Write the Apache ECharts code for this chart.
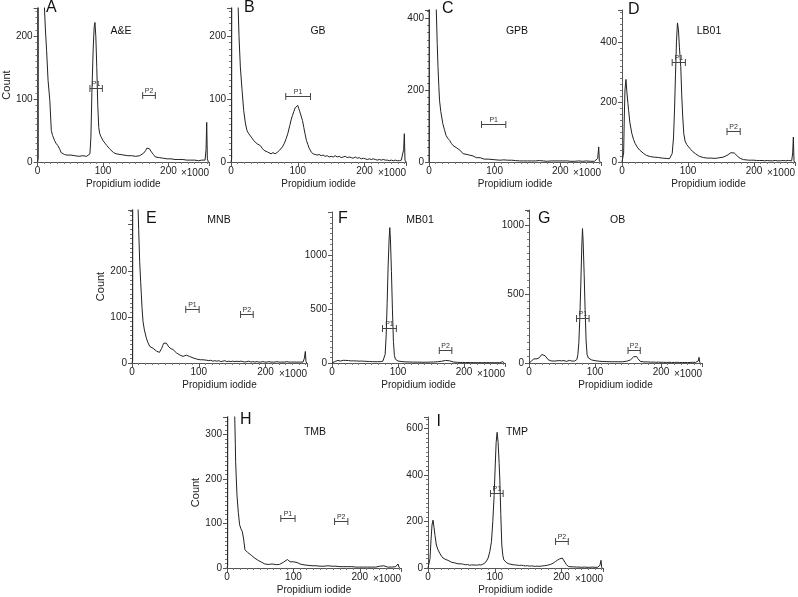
<!DOCTYPE html>
<html><head><meta charset="utf-8">
<script src="https://cdn.jsdelivr.net/npm/echarts@6/dist/echarts.min.js"></script>
<style>html,body{margin:0;padding:0;background:#fff}#c{width:798px;height:597px}</style>
</head><body><div id="c"></div>
<script>
// ---- data (x in ×1000 units of Propidium iodide, y = Count) ----
const dataA = [[0,0],[1,5],[2,3000],[9,3000],[10.3,250],[12,210],[13.8,177],[16,130],[18.7,98],[21,50],[23,42],[26,34],[28,30],[31,26],[34,20],[36,15],[39,12],[41,12],[45,11],[48,10],[51,11],[54,9],[57,10],[60,8],[63,9],[66,8],[69,10],[72,8],[75,9],[78,11],[80,13],[81.5,40],[83,110],[85,180],[86.5,215],[87.7,222],[89,200],[90.5,150],[92,90],[93.5,55],[95,45],[97,40],[100,34],[103,30],[106,26],[110,21],[113,18],[116,15],[120,13],[123,11],[126,12],[129,9],[132,11],[135,9],[138,10],[141,8],[144,10],[147,8],[150,9],[153,11],[156,10],[159,12],[162,14],[165,18],[167,22],[169,24],[171,21],[174,16],[177,12],[180,8],[183,9],[186,7],[189,8],[192,6],[195,7],[198,5],[201,6],[204,5],[207,6],[210,4],[213,5],[216,4],[219,5],[222,4],[225,4],[228,3],[231,4],[234,3],[237,4],[240,3],[243,3],[246,2],[249,5],[251,3],[254,2],[256,3],[257.5,20],[258.5,63],[259.5,5],[261,0]];
const dataB = [[0,0],[1,5],[2,3000],[9,3000],[10.6,250],[12,200],[14,151],[16.5,115],[19,82],[21.5,62],[24,50],[26.5,45],[29,42],[31.5,38],[34,34],[36.5,31],[39,29],[41.5,28],[44,26],[46.5,22],[49.5,18.5],[52,17],[54.5,16],[57,14],[60,13],[63,15],[66,13],[68,14],[70,16],[73,19],[75,21],[77,24],[80,30],[82.5,37],[85,45],[88,58],[90,67],[92,74],[94,80],[96,86],[98,89],[100,90],[101.5,85],[103,80],[105,77],[107,66],[109,55],[111,44],[113,34],[115,28],[117,22],[120,16],[123,13],[126,12],[129,11],[132,12],[135,10],[138,11],[141,9],[144,10],[147,8],[150,9],[153,8],[156,10],[159,8],[162,9],[165,7],[168,8],[171,9],[174,7],[177,8],[180,7],[183,6],[186,8],[189,6],[192,7],[195,5],[198,6],[201,5],[204,4],[207,5],[210,4],[213,5],[216,4],[219,3],[222,4],[225,3],[228,4],[231,3],[234,3],[237,2],[240,3],[243,2],[246,3],[249,2],[252,2],[255,3],[257,3],[258.5,20],[259.5,45],[260.5,3],[262,0]];
const dataC = [[0,0],[1,5],[2,5000],[9,5000],[11,430],[12.5,330],[13.7,265],[15,210],[16,172],[18,140],[21,107],[23.5,90],[26,74],[28.5,66],[31.5,60],[34,52],[36.5,46],[39,42],[41.5,40],[44,37],[47,33],[49,30],[52,23],[55,24],[58,21],[60,19],[62,19],[65,16],[67,17],[70,13],[72,12],[75,11],[78,12],[81,9],[84,8],[87,7],[90,8],[93,6],[96,7],[99,5],[102,6],[105,5],[108,5],[111,4],[114,6],[117,4],[120,5],[123,4],[126,5],[129,3],[132,4],[135,5],[138,3],[141,4],[144,3],[147,5],[150,3],[153,4],[156,3],[159,4],[162,3],[165,3],[168,4],[171,2],[174,3],[177,4],[180,2],[183,3],[186,3],[189,2],[192,3],[195,2],[198,3],[201,2],[204,3],[207,2],[210,3],[213,2],[216,2],[219,3],[222,2],[225,2],[228,3],[231,2],[234,2],[237,2],[240,3],[243,2],[246,2],[249,2],[252,2],[255,2],[257,10],[258.5,42],[259.5,3],[261,0]];
const dataD = [[0,0],[1.5,2],[2.5,30],[3.5,150],[4.5,240],[6,275],[7.5,230],[9,195],[10,172],[12,130],[15,94],[17.5,75],[20,61],[23,50],[27,39],[30,33],[33,28],[37,22],[40,20],[43,18],[46,19],[49,16],[52,17],[55,15],[58,16],[61,13],[64,14],[67,12],[70,12],[72,11],[74,14],[76,28],[78,80],[79.5,170],[81,290],[82.5,400],[84,463],[85.5,440],[87,380],[89,317],[90.5,220],[92,150],[93.6,94],[95.5,70],[98,58],[101,50],[104,42],[107,35],[111,28],[114,23],[117,19],[120,17],[123,15],[126,14],[129,13],[132,12],[135,13],[138,11],[141,12],[144,13],[147,14],[150,17],[153,16],[156,19],[159,22],[162,26],[165,31],[167.5,33],[170,30],[173,24],[176,17],[180,11],[184,8],[188,7],[192,6],[196,6],[200,6],[204,5],[208,5],[212,5],[216,4],[220,5],[224,4],[228,4],[232,5],[236,4],[240,4],[244,5],[248,4],[252,5],[257,4],[258.5,30],[259.5,83],[260.5,4],[261.5,0]];
const dataE = [[0,0],[1,5],[2,4000],[8,4000],[9,340],[10,290],[11.5,220],[13,175],[14,148],[15,120],[16.5,90],[18.5,72],[21.5,54],[24,44],[26.5,36],[29,34],[31.5,32],[34,29],[36.5,26],[39,22],[41,23],[43,27],[44.5,32],[46,38],[47.5,43],[49.5,45],[51.5,43],[53,40],[55,35],[56.5,32],[58.5,31],[61.5,29],[64,26],[66.5,22],[69,19.5],[72,17],[74,16],[76.5,14.4],[79,15],[81.5,17],[84,16.6],[86.5,14],[89,12],[91.5,11],[94,10],[96.5,8.7],[99,9],[102,7],[104,8],[106.5,7],[109,5],[112,6],[115,5],[118,6],[121,4],[124,5],[127,4],[130,5],[133,3],[136,4],[139,5],[142,3],[145,4],[148,3],[151,4],[154,3],[157,4],[160,3],[163,4],[166,3],[169,2],[172,3],[175,4],[178,2],[181,3],[184,2],[187,3],[190,2],[193,2],[196,3],[199,2],[202,2],[205,3],[208,2],[211,2],[214,2],[217,3],[220,2],[223,2],[226,2],[229,2],[232,3],[235,2],[238,2],[241,2],[244,2],[247,2],[250,2],[253,2],[256,2],[258,10],[259.5,25],[260.5,3],[261.5,0]];
const dataF = [[0,0],[1.5,5],[3,18],[5,15],[7,20],[9,24],[11,22],[13,18],[15,25],[17,25],[19,22],[21,24],[23,26],[25,23],[27,20],[29,19],[31,22],[33,20],[35,17],[37,19],[39,21],[41,17],[43,15],[45,18],[47,14],[49,16],[51,13],[53,15],[55,12],[57,14],[59,11],[61,13],[63,10],[65,12],[67,11],[69,12],[71,10],[73,13],[75,12],[77,16],[79,30],[80.5,80],[82,250],[83.5,550],[85,900],[86.5,1150],[87.5,1255],[88.5,1150],[90,850],[91.5,500],[93,200],[94.5,70],[96,35],[98,22],[100,18],[103,15],[106,13],[109,12],[112,10],[115,11],[118,9],[121,10],[124,8],[127,9],[130,8],[133,9],[136,7],[139,8],[142,7],[145,9],[148,8],[151,10],[154,9],[157,11],[160,12],[163,13],[166,16],[169,20],[172,24],[175,25],[178,20],[181,13],[184,9],[187,7],[190,6],[194,5],[198,5],[202,4],[206,5],[210,4],[214,4],[218,3],[222,4],[226,3],[230,3],[234,4],[238,3],[242,3],[246,3],[250,3],[254,3],[257,3],[258.5,12],[259.5,3],[261,0]];
const dataG = [[0,0],[2,5],[3.5,12],[5,18],[7,30],[8.6,36],[10,33],[12,30],[13.7,29],[15.5,38],[17.5,50],[19.5,62],[21,67],[22.5,65],[24.5,52],[26.5,38],[29,24],[31,18],[33.5,15],[36.5,12],[39,14],[41,13],[44,17],[46.7,19],[49,16],[51,14],[53,17],[55,15],[57,12],[59,15],[61,19],[63,16],[65,14],[67,15],[69,14],[71,17],[72.5,25],[74,60],[75.5,150],[77,330],[78.5,580],[80,850],[81,976],[82,880],[83.5,650],[85,380],[86.5,160],[88,60],[90,36],[92.5,28],[95,22],[97.5,19],[100,17],[103,14],[106,13],[109,12],[112,11],[115,11],[118,10],[121,10],[124,9],[127,10],[130,9],[133,8],[136,9],[139,10],[142,9],[145,11],[148,13],[151,16],[153.5,22],[156,32],[158.5,45],[161,53],[163,47],[165,32],[167,18],[168.5,12],[171,9],[174,8],[177,7],[180,8],[184,6],[188,7],[192,5],[196,6],[200,5],[204,5],[208,4],[212,5],[216,4],[220,4],[224,5],[228,4],[232,3],[236,4],[240,3],[244,4],[248,5],[252,4],[255,4],[256.5,15],[257.5,41],[258.5,4],[260,0]];
const dataH = [[0,0],[1,5],[2,4000],[10,4000],[11.6,345],[12.5,280],[13,239],[14,200],[15,164],[17,125],[19,97],[21,88],[23,82],[25,65],[27,41],[29,37],[31,35],[34,31],[37,28],[40,25],[42,22],[45,19],[47,17],[49.5,15],[52,13],[55,11],[57,9],[59.6,7.5],[62,8],[65,7],[68,9],[71,8],[74.7,7.5],[77,9],[79,8],[82,11],[85,13],[88,17],[91,19],[93,17],[95,14],[97.5,13],[100,14],[103,11],[106,12],[108,9],[110,9],[113,10],[116,7],[119,8],[122,6],[125,4],[128,5],[131,4],[134,5],[137,3],[140,4],[143,3],[146,4],[149,3],[152,5],[155,3],[158,4],[161,3],[164,4],[167,5],[170,3],[173,4],[176,3],[179,4],[182,3],[185,2],[188,3],[191,4],[194,2],[197,3],[200,2],[203,3],[206,2],[209,3],[212,2],[215,3],[218,2],[221,3],[224,2],[227,3],[230,4],[233,6],[236,5],[239,3],[242,2],[245,3],[248,2],[251,2],[254,3],[256,4],[257.5,9],[259,2],[260,0]];
const dataI = [[0,0],[1.5,5],[3,40],[4.5,120],[6,185],[7.5,206],[9,175],[10.5,140],[12.5,99],[15,78],[17.5,64],[20,52],[22.5,43],[25,38],[27,36],[28.5,40],[30,33],[32.5,29],[35,25],[37.5,21],[40,22],[42.5,20],[45,18],[47.5,17],[50,18],[53,16],[56,14],[59,15],[62,12],[65,13],[67.5,11],[70,13],[73,12],[76,14],[79,13],[82,16],[85,21],[87.5,30],[90,43],[92.5,70],[95,113],[97,200],[99,312],[100.5,430],[102,540],[103.5,584],[105,540],[106.5,450],[107.5,383],[109,230],[110.5,99],[112,55],[113.5,35],[115,28],[118,22],[121,18],[124,16],[127.5,14],[131,13],[134,12],[137,11],[140,12],[143,10],[146,9],[149,10],[152,8],[155,9],[158,8],[161,7],[164,8],[167.5,7],[171,9],[175,10],[179,12],[183,15],[187.5,21],[191,28],[194,34],[197,39],[199,42],[201,43],[203,36],[205,25],[207,15],[210,7],[214,5],[218,5],[222,4],[226,4],[230,3],[234,4],[238,3],[242,3],[246,4],[250,3],[254,3],[256,4],[257.5,12],[259,33],[260,3],[261,0]];

// gates: [from, to, height]
const gatesA = [[80,99,117],[160.6,180,107]];
const gatesB = [[82,119,105]];
const gatesC = [[80,117,105]];
const gatesD = [[76,96,333],[159,179,103]];
const gatesE = [[80.5,100.5,117],[162.5,181.5,107]];
const gatesF = [[76.5,97.5,329],[162.5,181.5,117]];
const gatesG = [[72,91,325],[150,168.5,92]];
const gatesH = [[81,102.5,113],[162,182,106]];
const gatesI = [[93.5,112.5,322],[191,210,116]];
const gateLabels = ['P1','P2'];

// tick labels
const xTicks = [0,100,200];
const yTicksA = [0,100,200];
const yTicksB = [0,100,200];
const yTicksC = [0,200,400];
const yTicksD = [0,200,400];
const yTicksE = [0,100,200];
const yTicksF = [0,500,1000];
const yTicksG = [0,500,1000];
const yTicksH = [0,100,200,300];
const yTicksI = [0,200,400,600];
const xMax = 262;

// layout
const panels = [
  {letter:'A', name:'A&E',  data:dataA, gates:gatesA, yTicks:yTicksA, yMax:245,  box:[32,8,177,154],   count:true,  lp:[46,0],  np:[121,31.5]},
  {letter:'B', name:'GB',   data:dataB, gates:gatesB, yTicks:yTicksB, yMax:245,  box:[231,8,175,154],  count:false, lp:[244,0], np:[318,31.5]},
  {letter:'C', name:'GPB',  data:dataC, gates:gatesC, yTicks:yTicksC, yMax:423,  box:[429,10,172,152], count:false, lp:[442,0.5], np:[517,31]},
  {letter:'D', name:'LB01', data:dataD, gates:gatesD, yTicks:yTicksD, yMax:506,  box:[622,10,175,152], count:false, lp:[628,1.5], np:[709,31]},
  {letter:'E', name:'MNB',  data:dataE, gates:gatesE, yTicks:yTicksE, yMax:332,  box:[132,210,175,153], count:true, lp:[146,211], np:[219,220.5]},
  {letter:'F', name:'MB01', data:dataF, gates:gatesF, yTicks:yTicksF, yMax:1400, box:[332,212,173,151], count:false, lp:[338,210.5], np:[420,220.5]},
  {letter:'G', name:'OB',   data:dataG, gates:gatesG, yTicks:yTicksG, yMax:1111, box:[529,210,173,153], count:false, lp:[538,210.5], np:[617.7,220.5]},
  {letter:'H', name:'TMB',  data:dataH, gates:gatesH, yTicks:yTicksH, yMax:339,  box:[227,417,174,151], count:true,  lp:[240,412], np:[315,432.5]},
  {letter:'I', name:'TMP',  data:dataI, gates:gatesI, yTicks:yTicksI, yMax:650,  box:[428,417,175,151], count:false, lp:[436.5,414], np:[517,432.5]}
];

const FONT = '"Liberation Sans", Arial, Helvetica, sans-serif';
const AX = '#555', INK = '#222';

function gateRender(params, api) {
  const a = api.coord([api.value(0), api.value(2)]);
  const b = api.coord([api.value(1), api.value(2)]);
  const y = Math.round(a[1]) + 0.5;
  const st = {stroke:'#444', lineWidth:1};
  return {type:'group', children:[
    {type:'line', shape:{x1:a[0],y1:y,x2:b[0],y2:y}, style:st},
    {type:'line', shape:{x1:a[0],y1:y-3.5,x2:a[0],y2:y+3.5}, style:st},
    {type:'line', shape:{x1:b[0],y1:y-3.5,x2:b[0],y2:y+3.5}, style:st},
    {type:'text', style:{text:gateLabels[params.dataIndex], x:(a[0]+b[0])/2, y:y-0.5, align:'center', verticalAlign:'bottom', font:'7px ' + FONT, fill:'#333'}}
  ]};
}

const option = {animation:false, textStyle:{fontFamily:FONT}, grid:[], xAxis:[], yAxis:[], series:[], graphic:[]};

panels.forEach((p, i) => {
  const [l, t, w, h] = p.box;
  option.grid.push({left:l, top:t, width:w, height:h, containLabel:false});
  const yInt = p.yTicks[1] - p.yTicks[0];
  option.xAxis.push({
    type:'value', gridIndex:i, min:0, max:xMax, interval:100, position:'bottom',
    axisLine:{show:true, onZero:false, lineStyle:{color:AX, width:1}},
    axisTick:{show:true, length:4, lineStyle:{color:AX}},
    minorTick:{show:true, splitNumber:10, length:2, lineStyle:{color:'#777'}},
    axisLabel:{margin:4, fontSize:10, color:INK, formatter:v => xTicks.indexOf(v) >= 0 ? String(v) : ''},
    splitLine:{show:false},
    name:'Propidium iodide', nameLocation:'middle', nameGap:17,
    nameTextStyle:{fontSize:10, color:INK}
  });
  option.xAxis.push({
    type:'value', gridIndex:i, min:0, max:xMax, position:'bottom',
    axisLine:{show:false}, axisTick:{show:false}, axisLabel:{show:false}, splitLine:{show:false},
    name:'×1000', nameLocation:'end', nameGap:0,
    nameTextStyle:{fontSize:10, color:INK, align:'right', verticalAlign:'top', padding:[6,0,0,0]}
  });
  option.yAxis.push({
    type:'value', gridIndex:i, min:0, max:p.yMax, interval:yInt,
    axisLine:{show:true, onZero:false, lineStyle:{color:AX, width:1}},
    axisTick:{show:true, length:4, lineStyle:{color:AX}},
    minorTick:{show:true, splitNumber:10, length:2, lineStyle:{color:'#777'}},
    axisLabel:{margin:5, fontSize:10, color:INK, formatter:v => p.yTicks.indexOf(v) >= 0 ? String(v) : ''},
    splitLine:{show:false},
    name:p.count ? 'Count' : '', nameLocation:'middle', nameGap:20,
    nameTextStyle:{fontSize:11, color:INK}
  });
  option.series.push({
    type:'line', xAxisIndex:2*i, yAxisIndex:i, data:p.data, showSymbol:false, symbol:'none',
    clip:true, smooth:false, lineStyle:{color:INK, width:1}, z:2
  });
  option.series.push({
    type:'custom', xAxisIndex:2*i, yAxisIndex:i, data:p.gates, encode:{x:[0,1], y:2},
    renderItem:gateRender, z:3
  });
  option.graphic.push({type:'text', left:p.lp[0], top:p.lp[1], style:{text:p.letter, font:'16px ' + FONT, fill:'#111'}});
  option.graphic.push({type:'text', x:p.np[0], y:p.np[1], style:{text:p.name, font:'10.5px ' + FONT, fill:'#111', align:'center', verticalAlign:'middle'}});
});

const chart = echarts.init(document.getElementById('c'), null, {renderer:'canvas'});
chart.setOption(option);
</script></body></html>
